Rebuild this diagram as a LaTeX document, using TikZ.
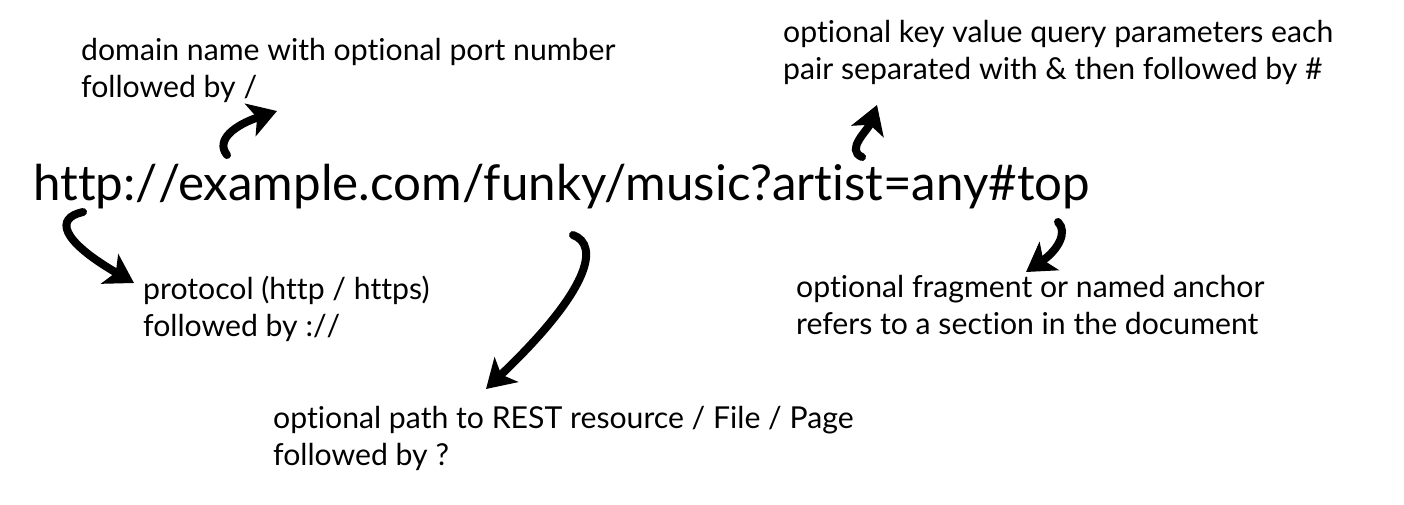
\documentclass[tikz,border=0pt]{standalone}
\usepackage{fontspec}
\setmainfont{Lato}[Ligatures={NoCommon}]
\usetikzlibrary{arrows.meta}
\tikzset{
    note/.style={anchor=north west, inner sep=0pt, align=left, font=\fontsize{30.2}{37}\selectfont},
    pointer/.style={line width=8pt, line cap=round, -{Stealth[length=28pt,width=34pt,inset=7pt]}}
}
\begin{document}
\begin{tikzpicture}[x=1pt,y=-1pt]
    \useasboundingbox (0,0) rectangle (1404,504);
    \node[anchor=base west, inner sep=0pt, font=\fontsize{49.3}{60}\selectfont] (url) at (33,200) {http:/\kern0pt/example.com/funky/music?artist=any\#top};
    \node[note] (domain) at (81,38) {domain name with optional port number\\followed by /};
    \node[note] (query) at (783,20) {optional key value query parameters each\\pair separated with \& then followed by \#};
    \node[note] (protocol) at (143,276) {protocol (http / https)\\followed by :/\kern0pt/};
    \node[note] (fragment) at (796,275) {optional fragment or named anchor\\refers to a section in the document};
    \node[note] (path) at (273,406) {optional path to REST resource / File / Page\\followed by ?};
    \coordinate (domaintail) at (227,155);
    \coordinate (domaintip) at (277,111);
    \coordinate (prototail) at (83,212);
    \coordinate (prototip) at (134,283);
    \coordinate (pathtail) at (573,235);
    \coordinate (pathtip) at (486,389);
    \coordinate (querytail) at (862,157);
    \coordinate (querytip) at (877,105);
    \coordinate (fragtail) at (1058,222);
    \coordinate (fragtip) at (1026,272);
    \draw[pointer] (domaintail) .. controls (215,140) and (235,125) .. (domaintip);
    \draw[pointer] (prototail) .. controls (55,218) and (60,240) .. (prototip);
    \draw[pointer] (pathtail) .. controls (600,245) and (590,290) .. (pathtip);
    \draw[pointer] (querytail) .. controls (845,150) and (868,130) .. (querytip);
    \draw[pointer] (fragtail) .. controls (1068,232) and (1058,250) .. (fragtip);
\end{tikzpicture}
\end{document}
